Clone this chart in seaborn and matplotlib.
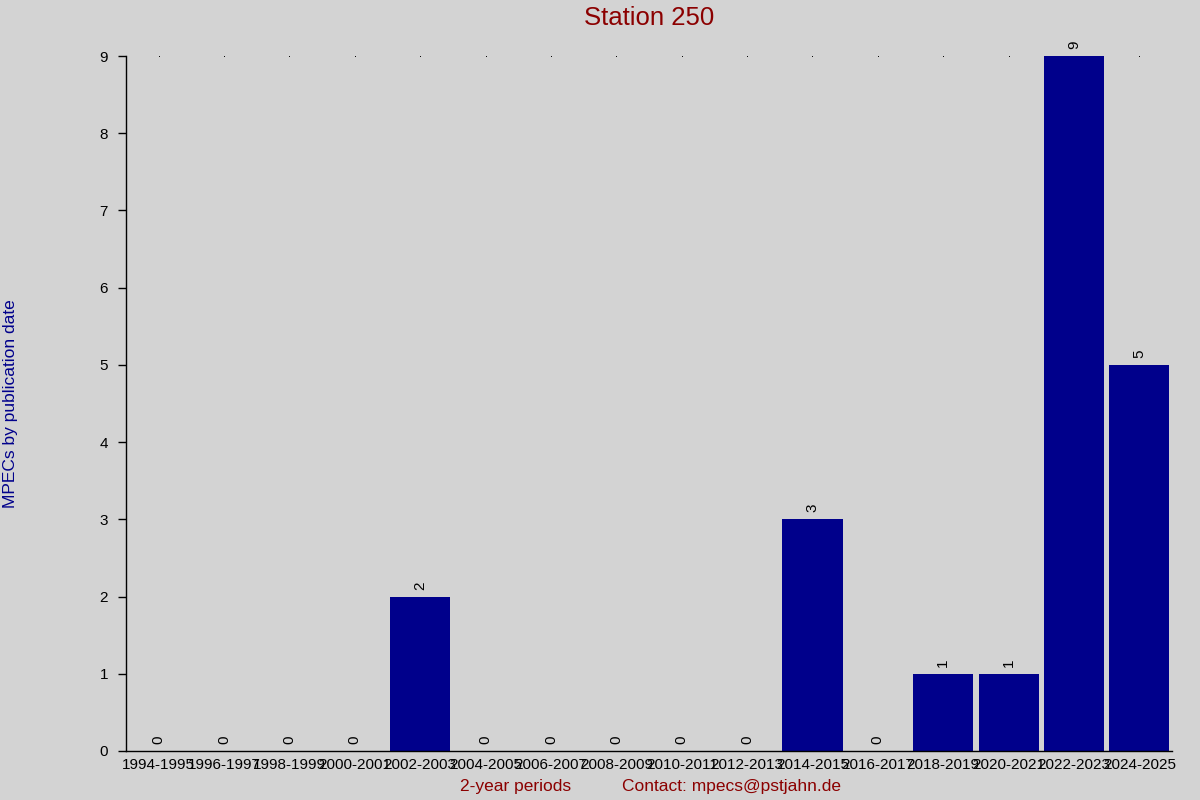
import seaborn as sns
import matplotlib
matplotlib.use("Agg")
import matplotlib.pyplot as plt
import pandas as pd

#### data
periods = ["1994-1995", "1996-1997", "1998-1999", "2000-2001", "2002-2003",
           "2004-2005", "2006-2007", "2008-2009", "2010-2011", "2012-2013",
           "2014-2015", "2016-2017", "2018-2019", "2020-2021", "2022-2023",
           "2024-2025"]
counts = [0, 0, 0, 0, 2, 0, 0, 0, 0, 0, 3, 0, 1, 1, 9, 5]
yticks = list(range(0, 10))

bg = "#d3d3d3"
bar_color = "#00008b"
red = "#8b0000"

sns.set_style("ticks")
plt.rcParams["font.family"] = ["Liberation Sans", "DejaVu Sans"]
plt.rcParams["text.color"] = "black"
plt.rcParams["axes.edgecolor"] = "black"
plt.rcParams["xtick.color"] = "black"
plt.rcParams["ytick.color"] = "black"

df = pd.DataFrame({"period": periods, "count": counts})

fig = plt.figure(figsize=(12, 8), dpi=100, facecolor=bg)
ax = fig.add_axes([0.105, 0.06125, 0.8717, 0.86875])
ax.set_facecolor(bg)

sns.barplot(data=df, x="period", y="count", color=bar_color, saturation=1,
            width=0.92, edgecolor="none", linewidth=0, ax=ax, zorder=2)

# value labels, turned sideways
ax.bar_label(ax.containers[0], labels=[str(c) for c in counts], rotation=90,
             padding=5, fontsize=11, color="black")

# little dots along the top line (hidden behind tall bars)
ax.scatter(range(len(periods)), [max(yticks)] * len(periods), s=0.5,
           color="black", zorder=1, linewidths=0)

ax.set_xlim(-0.5, len(periods) - 0.5)
ax.set_ylim(0, max(yticks))
ax.set_yticks(yticks)
ax.tick_params(axis="y", length=6, width=1, pad=7, labelsize=11,
               labelcolor="black")
ax.tick_params(axis="x", length=0, pad=5, labelsize=11, labelcolor="black")

for s in ["top", "right"]:
    ax.spines[s].set_visible(False)
ax.spines["left"].set_linewidth(1)
ax.spines["bottom"].set_linewidth(1)

ax.set_xlabel("")
ax.set_ylabel("")
fig.text(0.43, 0.0175, "2-year periods", color=red, fontsize=12.5,
         ha="center", va="center")
fig.text(0.61, 0.0175, "Contact: mpecs@pstjahn.de", color=red, fontsize=12.5,
         ha="center", va="center")
fig.text(0.009, 0.496, "MPECs by publication date", color=bar_color,
         fontsize=12.5, rotation=90, ha="center", va="center")
fig.text(0.541, 0.977, "Station 250", color=red, fontsize=18.5,
         ha="center", va="center")

fig.savefig("out.png", dpi=100, facecolor=bg)
